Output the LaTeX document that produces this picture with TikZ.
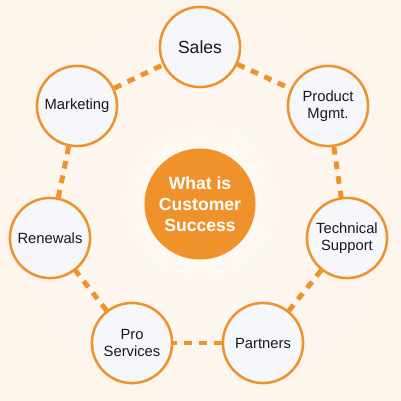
\documentclass[tikz,border=0pt]{standalone}
\usepackage{fontspec}
\setmainfont{Liberation Sans}
\usepackage{tikz}
\usetikzlibrary{calc}
\definecolor{csorange}{HTML}{F0922B}
\definecolor{csfill}{HTML}{F6F7FA}
\definecolor{csbg}{HTML}{FDF5EC}

\begin{document}
\begin{tikzpicture}[x=0.25mm, y=-0.25mm]
    % --- Styles ---
    \tikzstyle{area}=[circle, draw=csorange, line width=1.8pt, fill=csfill, minimum size=57pt, inner sep=0pt, align=center, font=\fontsize{10.5}{12.5}\selectfont, text=black!90]
    \tikzstyle{hub}=[circle, fill=csorange, minimum size=79pt, inner sep=0pt, align=center, font=\bfseries\fontsize{12.5}{15}\selectfont, text=white]
    \tikzstyle{link}=[csorange, line width=3.5pt, dash pattern=on 5.5pt off 5pt]

    % --- 0. Background ---
    \shade[inner color=white!40!csbg, outer color=csbg] (0,0) rectangle (401,401);
    \useasboundingbox (0,0) rectangle (401,401);

    % --- 1. Centre ---
    \node[hub] (cs) at (200,204) {What is\\Customer\\Success};

    % --- 2. Surrounding areas ---
    \node[area, font=\fontsize{12.5}{14}\selectfont] (sales) at (200,47) {Sales};
    \node[area] (prod) at (328,106) {Product\\Mgmt.};
    \node[area] (tech) at (347,238) {Technical\\Support};
    \node[area] (part) at (263,343) {Partners};
    \node[area] (pros) at (132,343) {Pro\\Services};
    \node[area] (renew) at (50,238) {Renewals};
    \node[area] (mark) at (77,106) {Marketing};

    % --- 3. Dashed ring ---
    \draw[link] (sales) -- (prod);
    \draw[link] (prod) -- (tech);
    \draw[link] (tech) -- (part);
    \draw[link] (part) -- (pros);
    \draw[link] (pros) -- (renew);
    \draw[link] (renew) -- (mark);
    \draw[link] (mark) -- (sales);

\end{tikzpicture}
\end{document}
